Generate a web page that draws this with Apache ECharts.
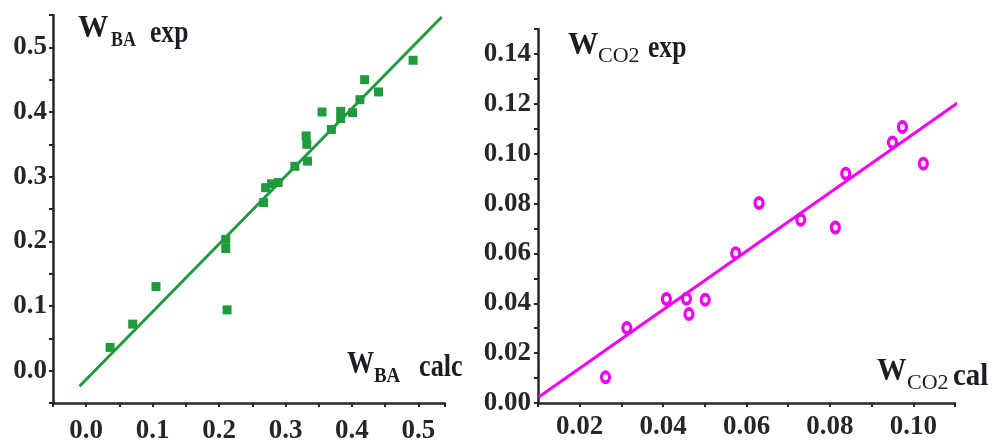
<!DOCTYPE html>
<html>
<head>
<meta charset="utf-8">
<script src="https://cdn.jsdelivr.net/npm/echarts@6/dist/echarts.min.js"></script>
<style>
  html, body { margin: 0; padding: 0; background: #fff; }
  #chart { width: 992px; height: 445px; }
</style>
</head>
<body>
<div id="chart"></div>
<script>
// W_BA: calculated vs experimental
const baCalc = [0.036, 0.070, 0.105, 0.210, 0.210, 0.212, 0.267, 0.270, 0.279, 0.289, 0.314,
  0.331, 0.332, 0.333, 0.355, 0.369, 0.383, 0.383, 0.401, 0.412, 0.419, 0.440, 0.492];
const baExp = [0.036, 0.072, 0.130, 0.203, 0.189, 0.094, 0.260, 0.283, 0.289, 0.291, 0.316,
  0.363, 0.350, 0.324, 0.400, 0.373, 0.401, 0.390, 0.399, 0.419, 0.450, 0.431, 0.480];
const baFitX = [-0.010, 0.535];
const baFitY = [-0.024, 0.547];

// W_CO2: calculated vs experimental
const co2Calc = [0.0262, 0.0313, 0.0408, 0.0456, 0.0462, 0.0501, 0.0574, 0.0630, 0.0730,
  0.0813, 0.0838, 0.0950, 0.0974, 0.1024];
const co2Exp = [0.0103, 0.0301, 0.0417, 0.0418, 0.0357, 0.0414, 0.0601, 0.0802, 0.0735,
  0.0704, 0.0920, 0.1045, 0.1107, 0.0960];
const co2FitX = [0.0102, 0.118];
const co2FitY = [0.0024, 0.129];

const green = '#1f9a3c';
const magenta = '#f000f0';
const axisColor = '#262626';
const serif = 'Liberation Serif';

const zip = (xs, ys) => xs.map((x, i) => [x, ys[i]]);

// only label every other tick (ticks every half step)
function labelEvery(step, digits) {
  return v => {
    const k = v / step;
    return Math.abs(k - Math.round(k)) < 1e-6 ? v.toFixed(digits) : '';
  };
}

function valueAxis(gridIndex, min, max, interval, fmt, margin) {
  return {
    type: 'value',
    gridIndex: gridIndex,
    min: min,
    max: max,
    interval: interval,
    axisLine: { show: true, onZero: false, lineStyle: { color: axisColor, width: 2.5 } },
    axisTick: { show: true, length: 4, lineStyle: { color: axisColor, width: 2 } },
    splitLine: { show: false },
    axisLabel: {
      formatter: fmt,
      margin: margin,
      color: axisColor,
      fontFamily: serif,
      fontWeight: 'bold',
      fontSize: 27,
      showMinLabel: true,
      showMaxLabel: true
    }
  };
}

function label(x, baseline, text, size, weight, sx) {
  return {
    type: 'text',
    x: x,
    y: baseline - size * 0.34,
    scaleX: sx,
    style: {
      text: text,
      fill: '#1c1c24',
      font: weight + ' ' + size + 'px "' + serif + '"',
      align: 'left',
      verticalAlign: 'middle'
    }
  };
}

const chart = echarts.init(document.getElementById('chart'));
chart.setOption({
  animation: false,
  backgroundColor: '#fff',
  grid: [
    { left: 53, top: 15, width: 392, height: 389 },
    { left: 538, top: 29, width: 417, height: 374 }
  ],
  xAxis: [
    valueAxis(0, -0.05, 0.54, 0.05, labelEvery(0.1, 1), 15),
    valueAxis(1, 0.01, 0.11, 0.01, v => (v > 0.015 ? labelEvery(0.02, 2)(v) : ''), 11)
  ],
  yAxis: [
    valueAxis(0, -0.05, 0.55, 0.05, labelEvery(0.1, 1), 6),
    valueAxis(1, 0, 0.15, 0.01, labelEvery(0.02, 2), 7)
  ],
  series: [
    {
      type: 'line',
      xAxisIndex: 0,
      yAxisIndex: 0,
      data: zip(baFitX, baFitY),
      symbol: 'none',
      lineStyle: { color: green, width: 3 },
      z: 2
    },
    {
      type: 'scatter',
      xAxisIndex: 0,
      yAxisIndex: 0,
      data: zip(baCalc, baExp),
      symbol: 'rect',
      symbolSize: 9,
      itemStyle: { color: green, opacity: 1 },
      z: 3
    },
    {
      type: 'line',
      xAxisIndex: 1,
      yAxisIndex: 1,
      data: zip(co2FitX, co2FitY),
      symbol: 'none',
      clip: false,
      lineStyle: { color: magenta, width: 3 },
      z: 2
    },
    {
      type: 'scatter',
      xAxisIndex: 1,
      yAxisIndex: 1,
      data: zip(co2Calc, co2Exp),
      symbol: 'circle',
      symbolSize: [8, 10],
      itemStyle: { color: '#fff', borderColor: magenta, borderWidth: 3.5, opacity: 1 },
      z: 3
    }
  ],
  graphic: [
    label(78, 40, 'W', 32, 'bold', 0.95),
    label(111, 48, 'BA', 21, 'bold', 0.85),
    label(150, 45, 'exp', 32, 'bold', 0.8),

    label(347, 376, 'W', 32, 'bold', 0.85),
    label(374, 384, 'BA', 21, 'bold', 0.9),
    label(419, 379, 'calc', 32, 'bold', 0.82),

    label(568, 57, 'W', 32, 'bold', 0.95),
    label(598, 64, 'CO2', 22, 'normal', 1.0),
    label(648, 60, 'exp', 32, 'bold', 0.8),

    label(877, 383, 'W', 32, 'bold', 0.92),
    label(907, 391, 'CO2', 22, 'normal', 1.0),
    label(953, 388, 'cal', 32, 'bold', 0.9)
  ]
});
</script>
</body>
</html>
